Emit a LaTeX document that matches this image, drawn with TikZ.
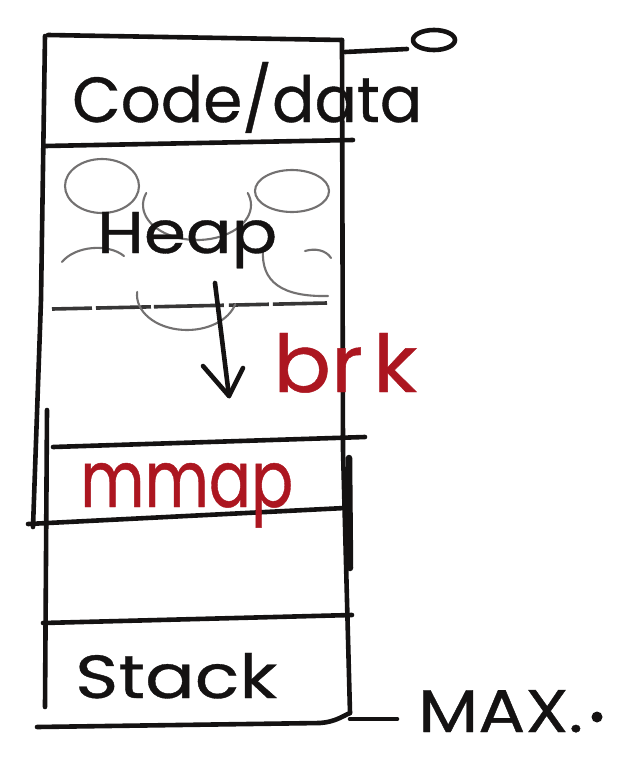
\documentclass[tikz,border=0pt]{standalone}
\usepackage{fontspec}
\usepackage{graphicx}
\setmainfont{Poppins}[FakeBold=0.6]
\definecolor{ink}{RGB}{20,18,18}
\definecolor{redink}{RGB}{172,22,32}
\definecolor{pencil}{RGB}{115,113,113}
\tikzset{
  pen/.style={draw=ink, line width=4.6pt, line cap=round, line join=round},
  cloud/.style={draw=pencil, line width=2.1pt, line cap=round},
  label/.style={anchor=base west, inner sep=0pt, text=ink},
  redlabel/.style={anchor=base west, inner sep=0pt, text=redink},
}
\begin{document}
\begin{tikzpicture}[x=1pt, y=-1pt]
\useasboundingbox (0,0) rectangle (625,761);
\fill[white] (0,0) rectangle (625,761);

% corner points of the address-space column
\coordinate (tl) at (48,35);
\coordinate (tr) at (342,40);
\coordinate (br) at (350,713);

% outer frame
\draw[pen] (tl) -- (tr);
\draw[pen] (45,36) -- (41,300) -- (33,527);
\draw[pen] (47,410) -- (45,707);
\draw[pen] (tr) -- (343,450) -- (br);
\draw[draw=ink, line width=6.5pt, line cap=round] (349,458) -- (350,568);

% address 0 marker
\coordinate (zt0) at (345,52);
\coordinate (zt1) at (407,49);
\draw[pen] (zt0) -- (zt1);
\draw[pen] (434,40) ellipse [x radius=21, y radius=10];

% section dividers
\draw[pen] (45,146) -- (353,140);
\draw[draw=ink!85, line width=3.6pt, dash pattern=on 40pt off 4pt on 55pt off 3pt on 70pt off 5pt] (52,309) -- (327,303);
\draw[pen] (53,447) -- (365,437);
\draw[pen] (28,524) -- (345,508);
\draw[pen] (43,623) -- (352,615);
\draw[pen] (37,727) -- (320,723) .. controls (335,722) and (343,716) .. (br);

% address MAX marker
\coordinate (mt0) at (350,719);
\coordinate (mt1) at (397,719);
\draw[pen] (mt0) -- (mt1);

% heap clouds
\draw[cloud] (102,186) ellipse [x radius=37, y radius=27];
\draw[cloud] (197,205) ++(200:54 and 35) arc [start angle=200, end angle=-20, x radius=54, y radius=35];
\draw[cloud] (292,191) ellipse [x radius=37, y radius=21];
\draw[cloud] (187,295) ++(185:50 and 35) arc [start angle=185, end angle=15, x radius=50, y radius=35];
\draw[cloud] (263,250) .. controls (261,282) and (282,297) .. (328,296);
\draw[cloud] (305,251) .. controls (315,248) and (326,250) .. (331,258);
\draw[cloud] (62,262) .. controls (75,246) and (108,243) .. (124,256);

% heap growth arrow
\coordinate (a0) at (215,283);
\coordinate (a1) at (229,396);
\draw[pen] (a0) -- (a1);
\draw[pen] (203,366) -- (a1) -- (243,368);

% labels
\node[label] (code) at (72,122) {\resizebox{350pt}{60pt}{Code/data}};
\node[label] (heap) at (97,253) {\resizebox{180pt}{41pt}{Heap}};
\node[redlabel] (brk) at (273,392) {\resizebox{144pt}{59pt}{br\kern0.12em k}};
\node[redlabel] (mmap) at (80,507) {\resizebox{213pt}{44pt}{mmap}};
\node[label] (stack) at (75,698) {\resizebox{202pt}{45pt}{Stack}};
\node[label] (max) at (418,732) {\resizebox{165pt}{42pt}{MAX.}};
\fill[ink] (597,717) circle (5.5);
\end{tikzpicture}
\end{document}
